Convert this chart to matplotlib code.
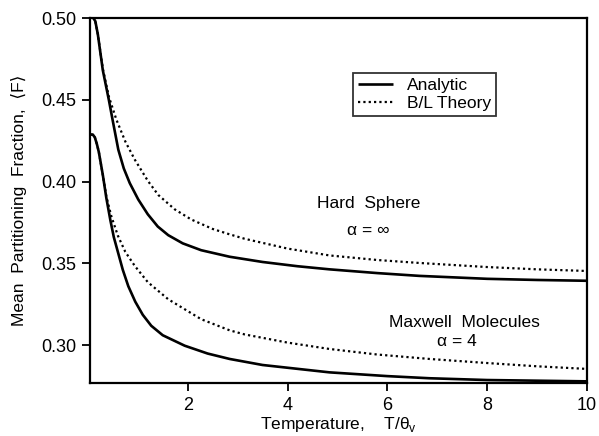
import matplotlib
matplotlib.use("Agg")
import matplotlib.pyplot as plt

plt.rcParams['font.family'] = ['Liberation Sans', 'DejaVu Sans']

# Hard sphere, analytic
hs_an_x = [0.10, 0.15, 0.20, 0.30, 0.42, 0.50, 0.61, 0.72, 0.84, 1.01, 1.2, 1.4, 1.61, 1.9,
           2.27, 2.84, 3.5, 4.2, 4.84, 5.8, 6.64, 8.0, 9.0, 10.0]
hs_an_y = [0.5005, 0.498, 0.490, 0.468, 0.450, 0.437, 0.4195, 0.408, 0.399, 0.389, 0.380, 0.3725,
           0.3672, 0.3622, 0.3580, 0.3540, 0.3508, 0.3482, 0.3463, 0.3440, 0.3423, 0.3405, 0.3398, 0.3393]
# Hard sphere, B/L theory
hs_bl_x = [0.10, 0.15, 0.20, 0.30, 0.42, 0.57, 0.75, 0.94, 1.2, 1.41, 1.74, 2.07, 2.5, 2.84,
           3.14, 4.0, 4.84, 5.8, 6.64, 8.0, 9.0, 10.0]
hs_bl_y = [0.5005, 0.498, 0.490, 0.469, 0.452, 0.438, 0.4245, 0.4134, 0.4005, 0.3918, 0.3830, 0.3768,
           0.3710, 0.3677, 0.3650, 0.3590, 0.3548, 0.3520, 0.3502, 0.3477, 0.3463, 0.3453]
# Maxwell molecules, analytic
mm_an_x = [0.05, 0.10, 0.14, 0.18, 0.22, 0.30, 0.37, 0.45, 0.52, 0.61, 0.70, 0.81, 0.95, 1.1,
           1.27, 1.5, 1.94, 2.4, 2.84, 3.5, 4.84, 6.0, 6.84, 8.0, 10.0]
mm_an_y = [0.4287, 0.4287, 0.427, 0.423, 0.418, 0.404, 0.390, 0.3765, 0.366, 0.3560, 0.3460, 0.3360,
           0.3265, 0.3185, 0.3118, 0.3060, 0.2996, 0.2948, 0.2915, 0.2878, 0.2833, 0.2810, 0.2797,
           0.2786, 0.2778]
# Maxwell molecules, B/L theory
mm_bl_x = [0.05, 0.10, 0.14, 0.18, 0.22, 0.30, 0.37, 0.47, 0.60, 0.75, 0.94, 1.2, 1.61, 2.27,
           2.84, 3.14, 4.0, 4.84, 5.8, 6.84, 8.0, 9.0, 10.0]
mm_bl_y = [0.4287, 0.4287, 0.427, 0.423, 0.418, 0.404, 0.391, 0.3788, 0.3670, 0.3570, 0.3484, 0.3385,
           0.3280, 0.3158, 0.3090, 0.3065, 0.3015, 0.2976, 0.2942, 0.2915, 0.2890, 0.2870, 0.2854]

x_ticks = [2, 4, 6, 8, 10]
y_ticks = [0.30, 0.35, 0.40, 0.45, 0.50]

fig = plt.figure(figsize=(5.99, 4.36), dpi=100)
ax = fig.add_axes([0.150, 0.1216, 0.830, 0.8371])

dot = (0, (1, 1.4))
ax.plot(hs_an_x, hs_an_y, color='black', lw=1.9, label='Analytic', solid_capstyle='butt')
ax.plot(hs_bl_x, hs_bl_y, color='black', lw=1.6, ls=dot, label='B/L Theory')
ax.plot(mm_an_x, mm_an_y, color='black', lw=1.9)
ax.plot(mm_bl_x, mm_bl_y, color='black', lw=1.6, ls=dot)

ax.set_xlim(0.04, 10)
ax.set_ylim(0.2768, 0.50)
ax.set_xticks(x_ticks)
ax.set_xticklabels([str(t) for t in x_ticks])
ax.set_yticks(y_ticks)
ax.set_yticklabels([f"{t:.2f}" for t in y_ticks])
ax.tick_params(direction='out', length=6, width=1.3, labelsize=13, colors='black', pad=4)
for s in ax.spines.values():
    s.set_linewidth(1.6)
    s.set_color('black')

fs = 12.5
ax.set_xlabel('Temperature,    T/θ$_\\mathregular{v}$', fontsize=fs, labelpad=1)
ax.set_ylabel('Mean  Partitioning  Fraction,  ⟨F⟩', fontsize=fs, labelpad=10)

ax.text(5.62, 0.3866, 'Hard  Sphere', ha='center', va='center', fontsize=fs)
ax.text(5.62, 0.3700, 'α = ∞', ha='center', va='center', fontsize=fs)
ax.text(7.54, 0.3140, 'Maxwell  Molecules', ha='center', va='center', fontsize=fs)
ax.text(7.40, 0.3024, 'α = 4', ha='center', va='center', fontsize=fs)

leg = ax.legend(loc='upper left', bbox_to_anchor=(0.529, 0.849), frameon=True,
                fancybox=False, edgecolor='black', fontsize=fs, handlelength=2.0,
                borderpad=0.3, labelspacing=0.15, handletextpad=0.8, borderaxespad=0)
leg.get_frame().set_linewidth(1.3)

fig.savefig('out.png', dpi=100)
